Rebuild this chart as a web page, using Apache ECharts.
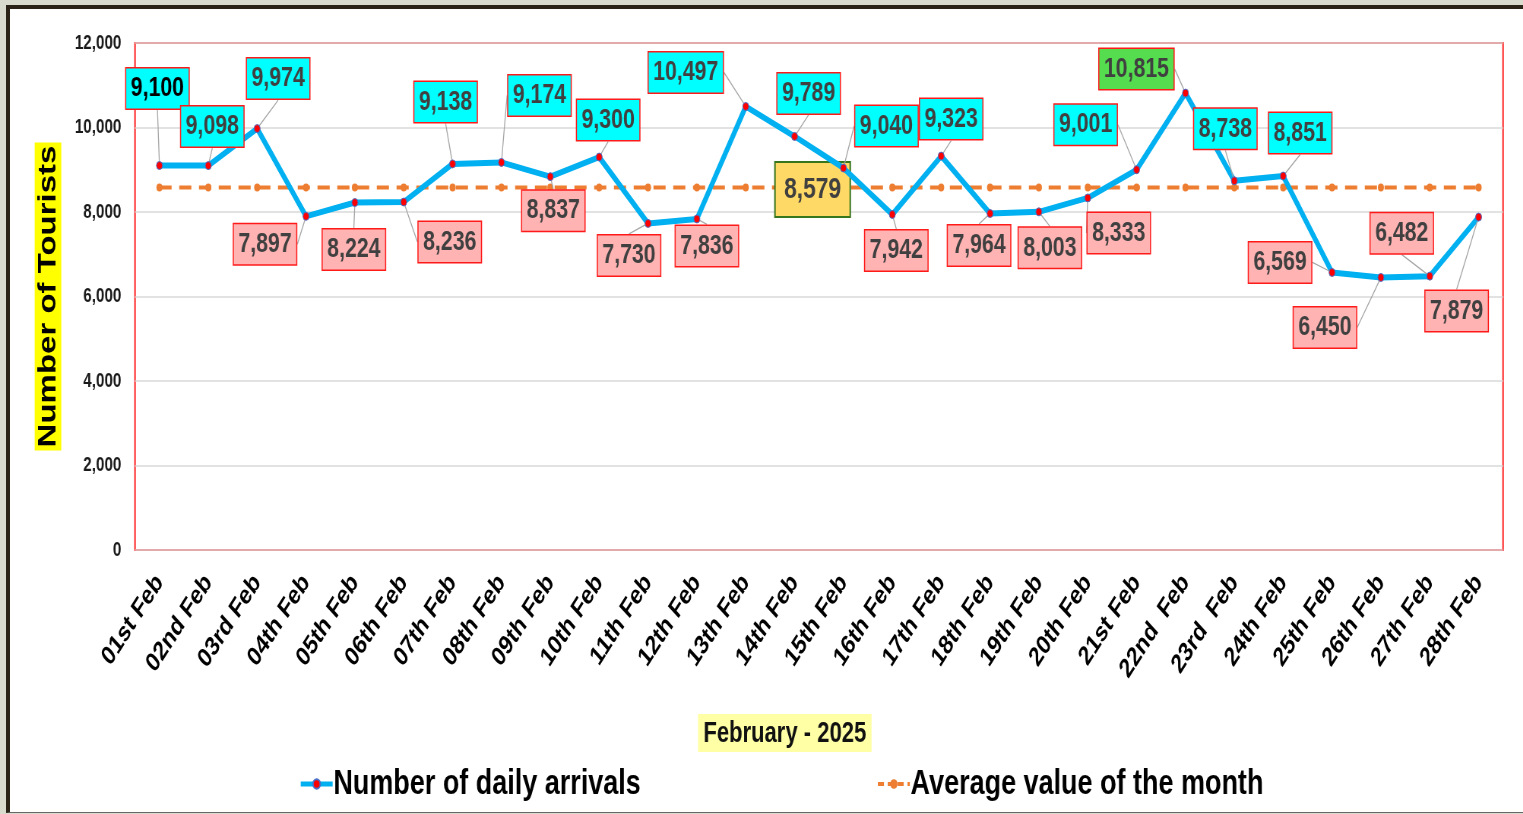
<!DOCTYPE html>
<html>
<head>
<meta charset="utf-8">
<script src="https://cdn.jsdelivr.net/npm/echarts@6/dist/echarts.min.js"></script>
<style>
  html, body { margin: 0; padding: 0; background: #d9dbcc; overflow: hidden; }
  #frame {
    position: absolute; left: 6px; top: 5px; width: 1530px; height: 803px;
    background: #fff; border-left: 4px solid #2b2416; border-top: 4px solid #2b2416;
    border-bottom: 1px solid #666;
  }
  /* the source chart is a horizontally squeezed Excel chart, so draw wide and squeeze */
  #chart-container {
    position: absolute; left: 0; top: 0; width: 2004px; height: 814px;
    transform: scaleX(0.76); transform-origin: 0 0;
  }
</style>
</head>
<body>
<div id="frame"></div>
<div id="chart-container"></div>
<script>
const days = ['01st Feb', '02nd Feb', '03rd Feb', '04th Feb', '05th Feb', '06th Feb', '07th Feb',
  '08th Feb', '09th Feb', '10th Feb', '11th Feb', '12th Feb', '13th Feb', '14th Feb', '15th Feb',
  '16th Feb', '17th Feb', '18th Feb', '19th Feb', '20th Feb', '21st Feb', '22nd  Feb', '23rd  Feb',
  '24th Feb', '25th Feb', '26th Feb', '27th Feb', '28th Feb'];
const arrivals = [9100, 9098, 9974, 7897, 8224, 8236, 9138, 9174, 8837, 9300, 7730, 7836, 10497,
  9789, 9040, 7942, 9323, 7964, 8003, 8333, 9001, 10815, 8738, 8851, 6569, 6450, 6482, 7879];
const monthAverage = [8579, 8579, 8579, 8579, 8579, 8579, 8579, 8579, 8579, 8579, 8579, 8579, 8579,
  8579, 8579, 8579, 8579, 8579, 8579, 8579, 8579, 8579, 8579, 8579, 8579, 8579, 8579, 8579];
const yTicks = [0, 2000, 4000, 6000, 8000, 10000, 12000];
// box colour of each value label as drawn in the source: h = cyan, l = pink, m = green
const labelKind = ['h', 'h', 'h', 'l', 'l', 'l', 'h', 'h', 'l', 'h', 'l', 'l', 'h', 'h',
  'h', 'l', 'h', 'l', 'l', 'l', 'h', 'm', 'h', 'h', 'l', 'l', 'l', 'l'];

const SQ = 0.76; // horizontal squeeze, must match the css transform

// where each value box sits relative to its point (screen px)
const labelShift = [
  [-2, -77], [4, -39], [21, -50], [-41, 28], [-1, 47], [46, 40], [-7, -62], [38, -67],
  [3, 34], [9, -37], [-19, 32], [10, 27], [-60, -34], [14, -43], [43, -42], [4, 36],
  [10, -37], [-11, 32], [11, 36], [31, 35], [-51, -45], [-49, -24], [-9, -52], [17, -43],
  [-52, -10], [-56, 50], [-28, -43], [-22, 94]
];
const avgLabelIndex = 13;
const avgShift = [18, 2];

const font = "'Liberation Sans', Arial, sans-serif";
const boxColors = { h: '#00ffff', l: '#ffb3b3', m: '#55dd4f' };

let arrivalData = arrivals.map((v, i) => ({
  value: v,
  label: {
    backgroundColor: boxColors[labelKind[i]],
    color: i === 0 ? '#000' : '#404040'
  }
}));

let avgData = monthAverage.map((v, i) => ({
  value: v,
  label: { show: i === avgLabelIndex }
}));

let option = {
  textStyle: { fontFamily: font },
  title: {
    text: 'February - 2025',
    left: 698 / SQ,
    top: 714,
    padding: [5, 7, 4, 7],
    backgroundColor: '#ffffa6',
    textStyle: {
      fontFamily: font,
      fontSize: 29,
      fontWeight: 'bold',
      color: '#111'
    }
  },
  legend: {
    left: 295 / SQ,
    top: 761,
    itemWidth: 42,
    itemHeight: 12,
    itemGap: 310,
    data: [
      { name: 'Number of daily arrivals', lineStyle: { width: 5 } },
      { name: 'Average value of the month', lineStyle: { width: 4, type: [8, 5] } }
    ],
    textStyle: { fontFamily: font, fontSize: 35.5, fontWeight: 'bold', color: '#000', padding: [0, 0, 0, -4] }
  },
  grid: {
    left: 135 / SQ,
    right: 20 / SQ,
    top: 43,
    bottom: 264,
    show: true,
    borderColor: '#ff2020',
    borderWidth: 2
  },
  xAxis: {
    type: 'category',
    data: days,
    axisLine: { show: false },
    axisTick: { show: false },
    axisLabel: {
      interval: 0,
      rotate: 50,
      margin: 28,
      fontFamily: font,
      fontSize: 27,
      fontWeight: 'bold',
      color: '#000'
    }
  },
  yAxis: {
    type: 'value',
    min: yTicks[0],
    max: yTicks[yTicks.length - 1],
    interval: yTicks[1] - yTicks[0],
    name: 'Number of Tourists',
    nameLocation: 'middle',
    nameGap: 97,
    nameTextStyle: {
      fontFamily: font,
      fontSize: 33,
      fontWeight: 'bold',
      color: '#000',
      backgroundColor: '#ffff00',
      padding: [2, 3, 0, 3]
    },
    axisLine: { show: false },
    axisTick: { show: false },
    splitLine: { lineStyle: { color: '#d9d9d9', width: 1.5 } },
    axisLabel: {
      margin: 18,
      fontFamily: font,
      fontSize: 20,
      fontWeight: 'bold',
      color: '#1a1a1a',
      formatter: (v) => v.toLocaleString('en-US')
    }
  },
  series: [
    {
      name: 'Number of daily arrivals',
      type: 'line',
      data: arrivalData,
      z: 3,
      symbol: 'circle',
      symbolSize: 8,
      itemStyle: { color: '#ff0000', borderColor: '#4a6fc8', borderWidth: 1 },
      lineStyle: { color: '#00b0f0', width: 6 },
      label: {
        show: true,
        position: 'inside',
        fontFamily: font,
        fontSize: 28,
        fontWeight: 'bold',
        borderColor: '#ff1a1a',
        borderWidth: 1.5,
        padding: [7, 6, 5, 6],
        formatter: (p) => p.value.toLocaleString('en-US')
      },
      labelLine: { show: true, lineStyle: { color: '#a6a6a6', width: 1.3 } },
      labelLayout: (p) => ({ dx: labelShift[p.dataIndex][0] / SQ, dy: labelShift[p.dataIndex][1] })
    },
    {
      name: 'Average value of the month',
      type: 'line',
      data: avgData,
      z: 2,
      symbol: 'circle',
      symbolSize: 8,
      itemStyle: { color: '#ed7d31' },
      lineStyle: { color: '#ed7d31', width: 4, type: [16, 10] },
      label: {
        position: 'inside',
        fontFamily: font,
        fontSize: 30,
        fontWeight: 'bold',
        color: '#404040',
        backgroundColor: '#ffd966',
        borderColor: '#38761d',
        borderWidth: 2,
        padding: [13, 11, 10, 11],
        formatter: (p) => p.value.toLocaleString('en-US')
      },
      labelLayout: () => ({ dx: avgShift[0] / SQ, dy: avgShift[1] })
    }
  ]
};

var myChart = echarts.init(document.getElementById('chart-container'));
myChart.setOption(option);
window.addEventListener('resize', myChart.resize);
</script>
</body>
</html>
